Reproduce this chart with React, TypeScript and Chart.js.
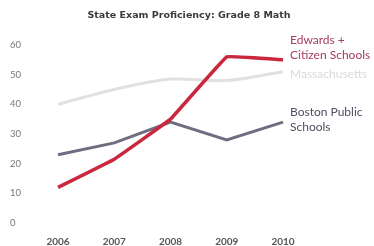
import React, { useEffect, useRef } from "react";
import { Chart, registerables } from "chart.js";

Chart.register(...registerables);

const years = ["2006", "2007", "2008", "2009", "2010"];
const edwards = [12, 21.5, 35, 56, 55];
const massachusetts = [40, 45, 48.5, 48, 51];
const boston = [23, 27, 34, 28, 34];
const yTicks = [0, 10, 20, 30, 40, 50, 60];
const title = "State Exam Proficiency: Grade 8 Math";
const seriesLabels = [
  ["Edwards +", "Citizen Schools"],
  ["Massachusetts"],
  ["Boston Public", "Schools"],
];

const FONT = "Lato, 'Open Sans', sans-serif";

const titleAndLabels = {
  id: "titleAndLabels",
  afterDatasetsDraw(chart: any) {
    const ctx = chart.ctx;
    ctx.save();
    ctx.font = `bold 9.5px 'DejaVu Sans', sans-serif`;
    ctx.fillStyle = "#3a3a3a";
    ctx.textAlign = "center";
    ctx.textBaseline = "middle";
    ctx.fillText(title, chart.width / 2 + 2, 16);

    const colors = ["#a63c5c", "#dcd8de", "#4e4f62"];
    const offsets = [-20, 2, -10];
    ctx.font = `12px ${FONT}`;
    ctx.textAlign = "left";
    seriesLabels.forEach((lines, i) => {
      const meta = chart.getDatasetMeta(i);
      const pt = meta.data[meta.data.length - 1];
      ctx.fillStyle = colors[i];
      lines.forEach((t, j) => {
        ctx.fillText(t, pt.x + 7, pt.y + offsets[i] + j * 15);
      });
    });
    ctx.restore();
  },
};

export default function App() {
  const ref = useRef<HTMLCanvasElement>(null);
  useEffect(() => {
    const chart = new Chart(ref.current!, {
      type: "line",
      data: {
        labels: years,
        datasets: [
          {
            label: "Edwards + Citizen Schools",
            data: edwards,
            borderColor: "#c9283f",
            borderWidth: 3.5,
            pointRadius: 0,
            tension: 0.05,
            order: 0,
          },
          {
            label: "Massachusetts",
            data: massachusetts,
            borderColor: "#e2dfe5",
            borderWidth: 3,
            pointRadius: 0,
            tension: 0.3,
            order: 2,
          },
          {
            label: "Boston Public Schools",
            data: boston,
            borderColor: "#6e6e80",
            borderWidth: 3,
            pointRadius: 0,
            tension: 0,
            order: 1,
          },
        ],
      },
      options: {
        animation: false,
        responsive: false,
        layout: { padding: { left: 10, right: 91, top: 45, bottom: 0 } },
        plugins: {
          legend: { display: false },
          tooltip: { enabled: false },
          title: { display: false },
        },
        scales: {
          x: {
            offset: false,
            grid: { display: false, drawTicks: false },
            border: { display: false },
            afterFit: (scale: any) => {
              scale.height = 23;
            },
            ticks: {
              color: "#555",
              font: { family: FONT, size: 10, weight: "bold" },
              padding: 13,
            },
          },
          y: {
            min: 0,
            max: 60,
            grid: { display: false, drawTicks: false },
            border: { display: false },
            afterBuildTicks: (scale: any) => {
              scale.ticks = yTicks.map((v) => ({ value: v }));
            },
            afterFit: (scale: any) => {
              scale.width = 48;
            },
            ticks: {
              color: "#777",
              font: { family: FONT, size: 9.5 },
              crossAlign: "far",
            },
          },
        },
      },
      plugins: [titleAndLabels],
    });
    return () => chart.destroy();
  }, []);
  return (
    <div style={{ position: "absolute", left: 0, top: 0, width: 374, height: 246, background: "#fff" }}>
      <canvas ref={ref} width={374} height={246} />
    </div>
  );
}
